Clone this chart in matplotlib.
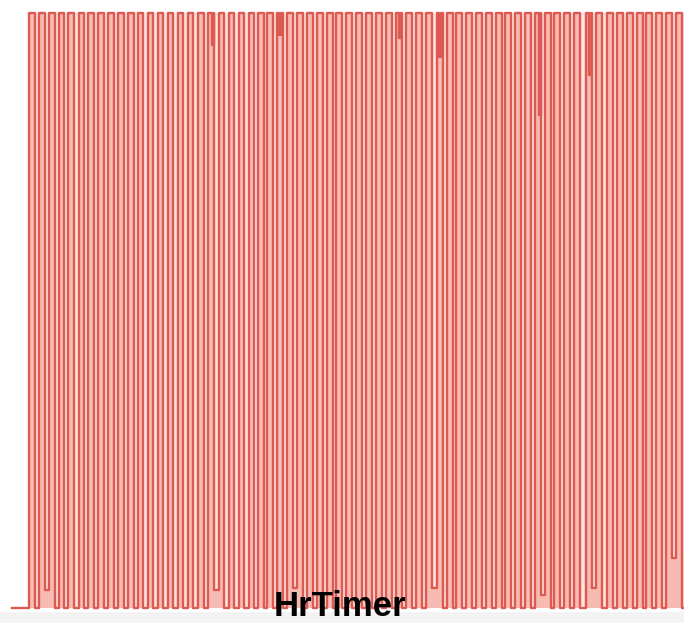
import matplotlib.pyplot as plt

# HrTimer output trace, time in µs (one unit per screen column), level normalised 0..1
start_x = 12
end_x = 684
peak_x = [32, 42, 52, 61.5, 71, 81.5, 91, 101, 111, 121, 131, 140.5, 150.5, 160.5,
          170.5, 180.5, 190.5, 201, 211, 221.5,
          231.5, 241.5, 251.5, 261, 270, 280, 290, 300, 310, 320, 330, 339, 349, 359,
          369, 379, 389, 399, 409, 419, 429, 440, 450,
          459, 469, 479, 489, 499, 508, 518, 528, 538, 548, 557, 567, 577, 589, 599,
          610, 620, 630, 640, 649, 659, 669, 679]

# troughs that do not reach the low rail
shallow_x = [47, 217, 295, 434, 544, 594, 674]
shallow_y = [0.03, 0.03, 0.034, 0.034, 0.022, 0.034, 0.084]

# glitches dipping down from the high rail
dip_x = [213, 258, 280, 400, 440, 540, 590, 668]
dip_y = [0.946, 0.929, 0.963, 0.958, 0.926, 0.829, 0.896]

HIGH = 1.0
LOW = 0.0
HALF_HI = 2.9


def trough_level(x0, x1):
    for sx, sy in zip(shallow_x, shallow_y):
        if x0 < sx < x1:
            return sy
    return LOW


xs, ys = [start_x], [LOW]
level = LOW
for i, px in enumerate(peak_x):
    rise, fall = px - HALF_HI, px + HALF_HI
    xs += [rise, rise]
    ys += [level, HIGH]
    for dx, dy in zip(dip_x, dip_y):
        if rise < dx < fall + 2:
            xs += [dx - 1.0, dx - 1.0, dx + 1.0, dx + 1.0]
            ys += [HIGH, dy, dy, HIGH]
    nxt = peak_x[i + 1] if i + 1 < len(peak_x) else end_x + 10
    level = trough_level(px, nxt)
    xs += [fall, fall]
    ys += [HIGH, level]
xs.append(end_x + 5)
ys.append(level)

fig = plt.figure(figsize=(6.84, 6.23), dpi=100)
ax = fig.add_axes([0, 0, 1, 1])
ax.set_xlim(0, 684)
ax.set_ylim(-0.0252, 1.0218)
ax.axis('off')

ax.axhspan(-0.0252, -0.007, color='#f3f3f3', lw=0)
ax.fill_between([peak_x[0], end_x], LOW, HIGH, color='#fde4df', lw=0)
ax.fill_between(xs, ys, LOW, color='#f8bbb3', lw=0)
ax.plot(xs, ys, color='#dc5a51', lw=1.7, solid_joinstyle='round')

ax.text(340, 0.003, 'HrTimer', ha='center', va='center', fontsize=25,
        fontweight='bold', family='Liberation Sans', color='black')

fig.savefig('out.png', dpi=100)
